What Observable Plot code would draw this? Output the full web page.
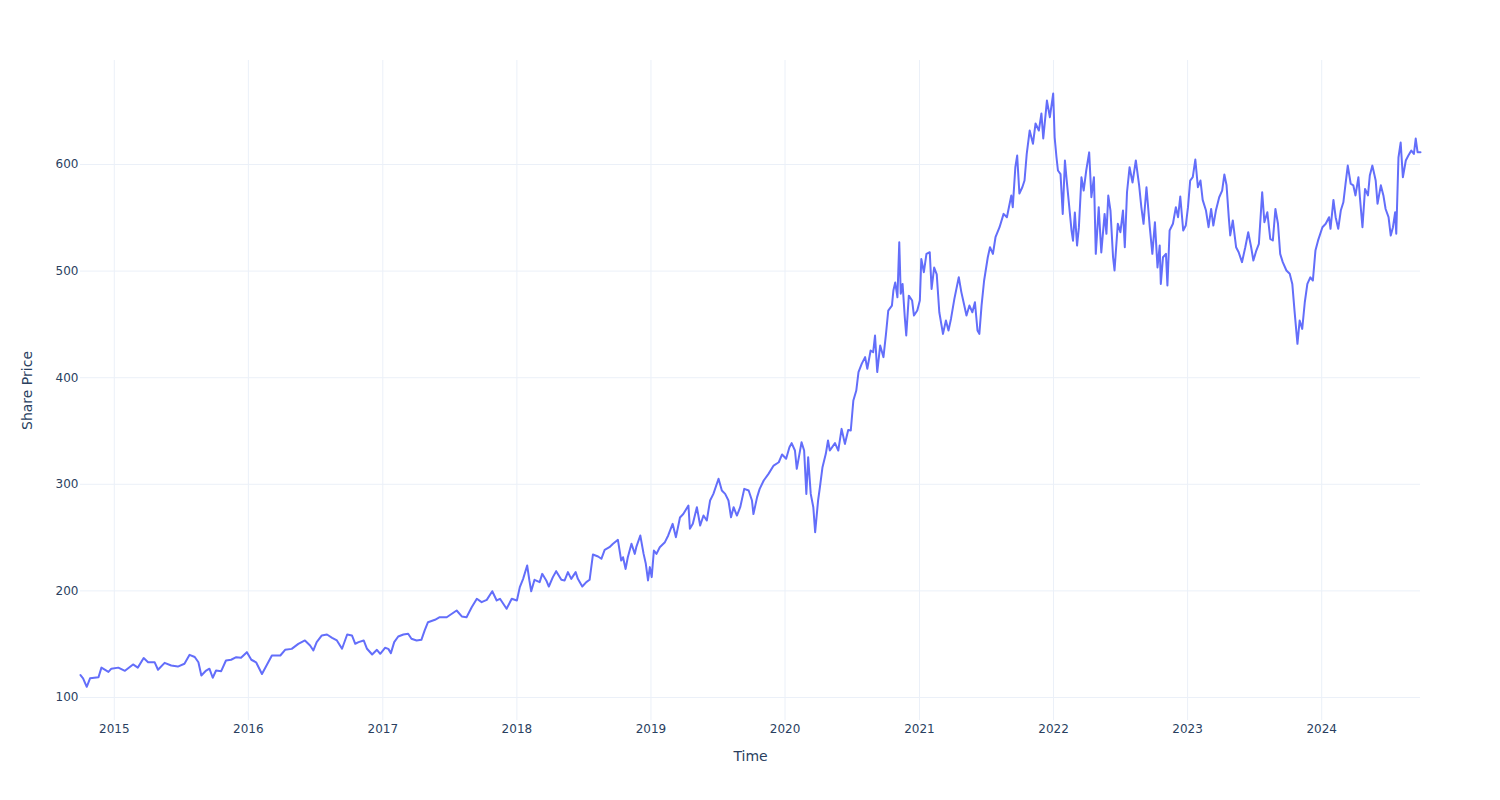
<!DOCTYPE html>
<html><head><meta charset="utf-8">
<script src="https://cdn.jsdelivr.net/npm/d3@7"></script>
<script src="https://cdn.jsdelivr.net/npm/@observablehq/plot@0.6"></script>
<style>body{margin:0;background:#fff;}</style>
</head><body><div id="chart"></div>
<script>
const p2014 = [["2014-10-01",121],["2014-10-08",118],["2014-10-18",110],["2014-10-27",118],["2014-11-19",119],["2014-11-27",128],["2014-12-16",124],["2014-12-24",127]];
const p2015 = [["2015-01-12",128],["2015-01-30",125],["2015-02-21",131],["2015-03-06",128],["2015-03-22",137],["2015-04-03",133],["2015-04-21",133],["2015-04-30",126],["2015-05-18",132.5],["2015-06-05",130],["2015-06-23",129],["2015-07-11",131.6],["2015-07-25",140],["2015-08-08",138],["2015-08-18",133],["2015-08-26",120.6],["2015-09-08",125.3],["2015-09-17",127],["2015-09-26",118.5],["2015-10-05",125.3],["2015-10-19",124.7],["2015-11-01",134.7],["2015-11-15",135.4],["2015-11-29",137.8],["2015-12-12",137.2],["2015-12-28",142.5]];
const p2016 = [["2016-01-09",135.4],["2016-01-22",133],["2016-02-07",122],["2016-03-05",139.4],["2016-03-28",139.4],["2016-04-10",144.7],["2016-04-28",145.6],["2016-05-16",150.3],["2016-06-03",153.5],["2016-06-17",148.8],["2016-06-26",144.1],["2016-07-05",151.9],["2016-07-19",158.2],["2016-08-02",159.1],["2016-08-16",156],["2016-08-29",153.5],["2016-09-12",145.7],["2016-09-26",159.1],["2016-10-09",158.2],["2016-10-18",150.4],["2016-10-27",151.9],["2016-11-10",153.5],["2016-11-19",145.7],["2016-12-03",140.3],["2016-12-16",144.7],["2016-12-25",141]];
const p2017 = [["2017-01-07",146.6],["2017-01-16",145.6],["2017-01-23",141.6],["2017-02-01",151.9],["2017-02-12",157.2],["2017-02-26",159.1],["2017-03-11",159.8],["2017-03-20",155.1],["2017-04-03",153.5],["2017-04-16",154.1],["2017-04-25",162.9],["2017-05-04",170.6],["2017-05-23",172.9],["2017-06-05",175.3],["2017-06-24",175.3],["2017-07-21",181.6],["2017-08-04",176],["2017-08-17",175.3],["2017-08-31",184.7],["2017-09-14",192.6],["2017-09-27",189.4],["2017-10-11",191.6],["2017-10-26",199.7],["2017-11-07",191],["2017-11-16",192.6],["2017-11-25",187.9],["2017-12-04",183.2],["2017-12-18",192.6]];
const p2018 = [["2018-01-01",191],["2018-01-09",203.5],["2018-01-18",211.3],["2018-01-29",223.8],["2018-02-04",209.8],["2018-02-09",199.7],["2018-02-18",210.4],["2018-03-04",208.2],["2018-03-11",216],["2018-03-22",209.8],["2018-03-29",204.1],["2018-04-09",212.9],["2018-04-18",218.5],["2018-05-02",210.4],["2018-05-11",209.8],["2018-05-20",217.6],["2018-05-29",211.3],["2018-06-10",217.6],["2018-06-16",211.3],["2018-06-28",204.1],["2018-07-09",208.2],["2018-07-18",210.4],["2018-07-27",234.1],["2018-08-10",232.3],["2018-08-19",230.1],["2018-08-28",238.5],["2018-09-10",241],["2018-09-19",244],["2018-10-03",247.9],["2018-10-12",228.5],["2018-10-17",231.6],["2018-10-24",220.6],["2018-10-30",231.6],["2018-11-09",244.2],["2018-11-18",234.7],["2018-11-22",241],["2018-12-03",252],["2018-12-12",234.7],["2018-12-18",225.4],["2018-12-24",209.8],["2018-12-29",222.3]];
const p2019 = [["2019-01-03",212.9],["2019-01-09",237.9],["2019-01-16",234.7],["2019-01-25",241],["2019-02-08",245.7],["2019-02-17",252],["2019-03-01",262.9],["2019-03-10",250.4],["2019-03-21",268.9],["2019-03-30",272.1],["2019-04-13",280.1],["2019-04-17",258.3],["2019-04-25",262.9],["2019-05-06",278.5],["2019-05-15",261.3],["2019-05-24",270.7],["2019-06-02",266],["2019-06-11",284.8],["2019-06-20",291],["2019-07-04",305.2],["2019-07-13",294.2],["2019-07-22",291],["2019-07-31",284.8],["2019-08-07",269.1],["2019-08-14",278.5],["2019-08-23",270.7],["2019-09-01",278.5],["2019-09-12",295.7],["2019-09-24",294.2],["2019-10-03",284.8],["2019-10-07",272.1],["2019-10-17",288],["2019-10-24",295.7],["2019-11-04",303.6],["2019-11-17",309.8],["2019-12-01",317.6],["2019-12-15",320.7],["2019-12-24",328]];
const p2020 = [["2020-01-04",324],["2020-01-13",334.8],["2020-01-19",338.6],["2020-01-28",331.7],["2020-02-02",314.5],["2020-02-15",339.5],["2020-02-22",331.7],["2020-02-28",291],["2020-03-04",325.3],["2020-03-11",291],["2020-03-18",278.5],["2020-03-23",255],["2020-03-31",284.8],["2020-04-05",297.3],["2020-04-12",316],["2020-04-21",328.6],["2020-04-27",341.1],["2020-05-02",331.7],["2020-05-16",338.6],["2020-05-25",331.7],["2020-06-03",352],["2020-06-12",337.9],["2020-06-21",351],["2020-06-28",350.5],["2020-07-05",378.6],["2020-07-13",388],["2020-07-19",405.3],["2020-07-28",413.2],["2020-08-06",419.3],["2020-08-12",408.4],["2020-08-21",425.5],["2020-08-28",424],["2020-09-02",439.6],["2020-09-08",405.3],["2020-09-16",430.2],["2020-09-25",419.3],["2020-10-02",441.5],["2020-10-08",463],["2020-10-18",467.7],["2020-10-22",481.8],["2020-10-27",489.3],["2020-11-02",475.5],["2020-11-07",527.1],["2020-11-11",478.7],["2020-11-16",488],["2020-11-22",456.8],["2020-11-26",439.6],["2020-12-03",477],["2020-12-12",472.4],["2020-12-17",458.3],["2020-12-26",463]];
const p2021 = [["2021-01-02",472.4],["2021-01-06",511.4],["2021-01-13",499],["2021-01-20",516.2],["2021-01-29",517.7],["2021-02-03",483.3],["2021-02-10",503.4],["2021-02-17",497],["2021-02-24",461.4],["2021-03-06",441.1],["2021-03-14",453.7],["2021-03-21",444.3],["2021-03-28",455.6],["2021-04-06",474],["2021-04-18",494.3],["2021-04-25",480.3],["2021-05-02",469.4],["2021-05-09",458.3],["2021-05-17",467.7],["2021-05-25",461.4],["2021-06-01",470.8],["2021-06-08",444.3],["2021-06-13",441.1],["2021-06-19",467.7],["2021-06-26",491.2],["2021-07-06",513],["2021-07-12",522.4],["2021-07-20",516.2],["2021-07-27",531.8],["2021-08-07",541.2],["2021-08-18",553.7],["2021-08-27",550.6],["2021-09-08",570.9],["2021-09-12",560],["2021-09-19",597.5],["2021-09-24",608.4],["2021-09-30",572.8],["2021-10-08",578.7],["2021-10-14",585],["2021-10-20",610],["2021-10-28",631.9],["2021-11-06",619.4],["2021-11-13",638.5],["2021-11-22",631.9],["2021-11-29",647.9],["2021-12-04",624.4],["2021-12-14",660],["2021-12-22",644.4],["2021-12-31",666.6]];
const p2022 = [["2022-01-04",625.5],["2022-01-09",606.8],["2022-01-13",594.4],["2022-01-20",591],["2022-01-26",553.7],["2022-02-01",603.8],["2022-02-05",588],["2022-02-12",563],["2022-02-19",538],["2022-02-23",528.6],["2022-02-28",555],["2022-03-06",524],["2022-03-11",541],["2022-03-18",588],["2022-03-24",575.6],["2022-03-31",594.4],["2022-04-08",611.4],["2022-04-14",569.4],["2022-04-21",588.1],["2022-04-26",516.2],["2022-05-04",560],["2022-05-11",517.5],["2022-05-20",553.7],["2022-05-25",535],["2022-05-30",570.9],["2022-06-05",556.8],["2022-06-12",513],["2022-06-16",500.6],["2022-06-25",544.4],["2022-07-02",536.5],["2022-07-09",556.8],["2022-07-14",522.4],["2022-07-20",574],["2022-07-27",597.5],["2022-08-04",583.1],["2022-08-13",603.8],["2022-08-22",580.5],["2022-08-28",560],["2022-09-03",544.4],["2022-09-11",578.7],["2022-09-20",541.2],["2022-09-27",516.2],["2022-10-04",545.9],["2022-10-11",503.4],["2022-10-17",524],["2022-10-20",488],["2022-10-26",513],["2022-11-03",516.2],["2022-11-07",486.5],["2022-11-13",538.1],["2022-11-22",544.4],["2022-11-30",560],["2022-12-06",550.6],["2022-12-12",570],["2022-12-20",538.1],["2022-12-27",542.8]];
const p2023 = [["2023-01-02",560],["2023-01-08",585],["2023-01-15",588.1],["2023-01-22",604.7],["2023-01-29",578.7],["2023-02-05",585],["2023-02-11",566.8],["2023-02-20",556.8],["2023-02-27",541.2],["2023-03-06",558.3],["2023-03-12",542.8],["2023-03-19",556.8],["2023-03-28",569.3],["2023-04-05",575.6],["2023-04-11",590.6],["2023-04-17",580.5],["2023-04-23",550.6],["2023-04-27",533.5],["2023-05-04",547.5],["2023-05-13",522.4],["2023-05-20",517.7],["2023-05-29",508.4],["2023-06-07",522.4],["2023-06-15",536.5],["2023-06-23",522.4],["2023-06-29",510],["2023-07-07",519.3],["2023-07-14",525.6],["2023-07-23",574],["2023-07-29",545.9],["2023-08-06",555.3],["2023-08-14",530.3],["2023-08-21",528.7],["2023-08-28",558.3],["2023-09-04",544.4],["2023-09-10",516.2],["2023-09-17",508.4],["2023-09-27",500.6],["2023-10-06",497.5],["2023-10-13",488],["2023-10-19",463],["2023-10-27",431.8],["2023-11-02",453.7],["2023-11-09",445.8],["2023-11-16",470.8],["2023-11-23",488],["2023-12-01",494.2],["2023-12-08",491.2],["2023-12-15",519.3],["2023-12-22",528.6]];
const p2024 = [["2024-01-03",541.2],["2024-01-12",544.4],["2024-01-21",550.6],["2024-01-25",539.7],["2024-02-02",566.8],["2024-02-08",550.6],["2024-02-15",539.7],["2024-02-22",556.8],["2024-02-29",564.6],["2024-03-06",582],["2024-03-12",599],["2024-03-20",582],["2024-03-27",580.5],["2024-04-02",571],["2024-04-10",588.1],["2024-04-14",569.3],["2024-04-21",541.2],["2024-04-28",577.1],["2024-05-06",571],["2024-05-11",589.7],["2024-05-18",599],["2024-05-27",585],["2024-06-01",563.2],["2024-06-10",580.5],["2024-06-17",571],["2024-06-23",558.3],["2024-07-01",550.6],["2024-07-07",533.4],["2024-07-13",541.2],["2024-07-19",555.3],["2024-07-22",535],["2024-07-28",606.6],["2024-08-03",620.6],["2024-08-09",588.1],["2024-08-17",603.8],["2024-08-24",608.4],["2024-09-01",613.1],["2024-09-08",610],["2024-09-13",624.4],["2024-09-18",611.6],["2024-09-26",611.6]];

const yearTicks = [2015, 2016, 2017, 2018, 2019, 2020, 2021, 2022, 2023, 2024];
const priceTicks = [100, 200, 300, 400, 500, 600];
const xDomain = ["2014-10-01", "2024-09-26"];
const yDomain = [78.4, 697.6];
const xTitle = "Time";
const yTitle = "Share Price";

const parse = s => new Date(s + "T00:00:00Z");
const rows = [].concat(p2014, p2015, p2016, p2017, p2018, p2019, p2020, p2021, p2022, p2023, p2024)
  .map(([d, v]) => ({date: parse(d), price: v}));
const yearDates = yearTicks.map(y => new Date(Date.UTC(y, 0, 1)));

const chart = Plot.plot({
  width: 1500, height: 800,
  marginLeft: 80, marginRight: 80, marginTop: 60, marginBottom: 80,
  style: {fontFamily: '"DejaVu Sans", Verdana, sans-serif', fontSize: "12px", color: "#2a3f5f", background: "#fff"},
  x: {type: "utc", domain: xDomain.map(parse)},
  y: {domain: yDomain},
  marks: [
    Plot.gridX(yearDates, {stroke: "#EBF0F8", strokeOpacity: 1, strokeWidth: 1}),
    Plot.gridY(priceTicks, {stroke: "#EBF0F8", strokeOpacity: 1, strokeWidth: 1}),
    Plot.axisX(yearDates, {tickSize: 0, tickPadding: 4, tickFormat: d => String(d.getUTCFullYear()), label: null}),
    Plot.axisY(priceTicks, {tickSize: 0, tickPadding: 2, label: null}),
    Plot.lineY(rows, {x: "date", y: "price", stroke: "#636efa", strokeWidth: 2}),
    Plot.text([xTitle], {frameAnchor: "bottom", dy: 36, lineAnchor: "middle", textAnchor: "middle", fontSize: 14, fill: "#2a3f5f"}),
    Plot.text([yTitle], {frameAnchor: "left", dx: -53, rotate: -90, textAnchor: "middle", lineAnchor: "middle", fontSize: 14, fill: "#2a3f5f"})
  ]
});
document.getElementById("chart").appendChild(chart);
</script>
</body></html>
